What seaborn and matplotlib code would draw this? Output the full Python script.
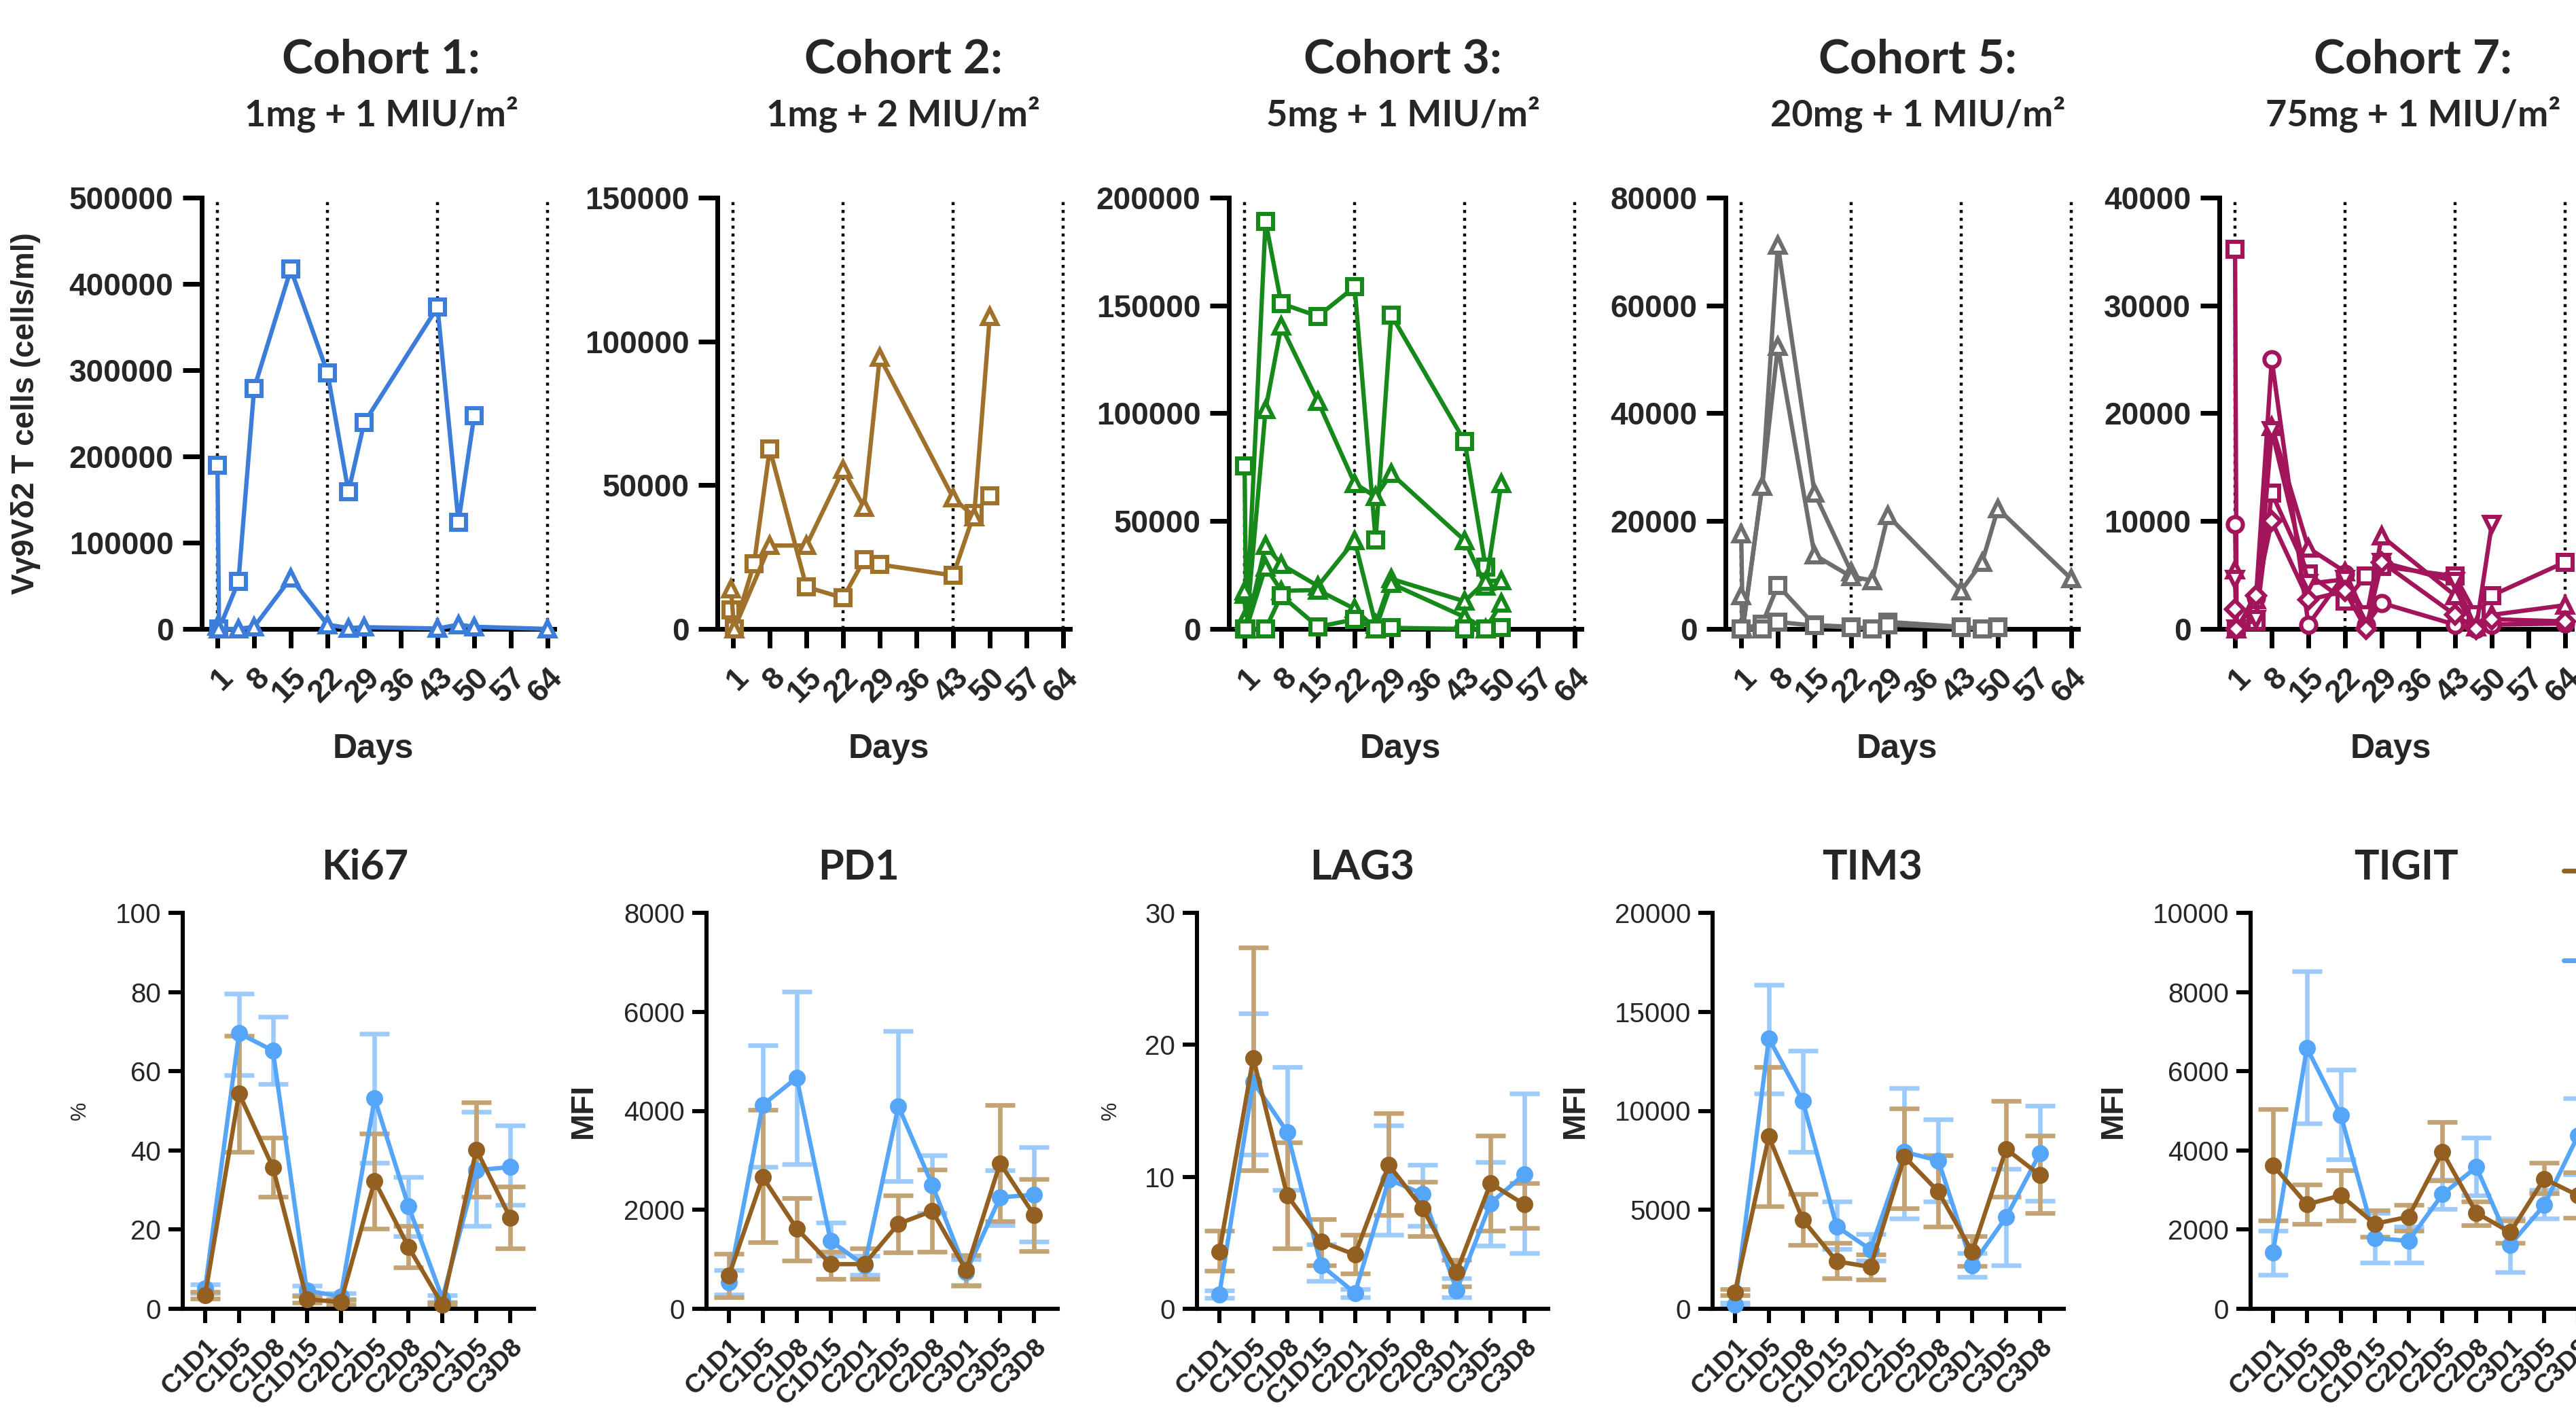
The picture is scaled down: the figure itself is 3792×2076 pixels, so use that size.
import numpy as np
import matplotlib
matplotlib.use("Agg")
import matplotlib.pyplot as plt
import seaborn as sns
from matplotlib.lines import Line2D

# ---------------- data: top row (cells/ml by study day) ----------------
day_ticks = [1, 8, 15, 22, 29, 36, 43, 50, 57, 64]
cycle_starts = [1, 22, 43, 64]

c1_sq_days = [1, 1.3, 5, 8, 15, 22, 26, 29, 43, 47, 50]
c1_sq_vals = [190000, 0, 55000, 279000, 417000, 297000, 159000, 239000, 373000, 124000, 247000]
c1_tri_days = [1, 1.3, 5, 8, 15, 22, 26, 29, 43, 47, 50, 64]
c1_tri_vals = [3000, 0, 0, 2500, 59000, 5000, 1000, 2000, 500, 5000, 2500, 0]

c2_sq_days = [0.6, 1.2, 5, 8, 15, 22, 26, 29, 43, 47, 50]
c2_sq_vals = [6600, 0, 22700, 62600, 14600, 10800, 24000, 22400, 18600, 40100, 46400]
c2_tri_days = [0.6, 1.2, 8, 15, 22, 26, 29, 43, 47, 50]
c2_tri_vals = [14000, 0, 29000, 29000, 55500, 42300, 94500, 45600, 39000, 108600]

c3_days = [1, 1.3, 5, 8, 15, 22, 26, 29, 43, 47, 50]
c3_a_vals = [75700, 0, 189000, 150900, 145000, 158600, 41400, 145600, 87000, 28800]
c3_b_vals = [16000, 0, 101800, 140500, 105500, 67500, 61300, 72000, 41000, 20000, 67500]
c3_c_vals = [17700, 0, 38700, 29900, 19900, 41000, 2200, 23200, 12800, 22100, 22500]
c3_d_vals = [4400, 0, 28800, 17700, 18000, 9300, 0, 21000, 5500, 0, 12000]
c3_e_vals = [0, 0, 0, 15500, 1000, 4400, 0, 500, 0, 0, 500]

c5_days = [1, 1.3, 5, 8, 15, 22, 26, 29, 43, 47, 50, 64]
c5_a_vals = [17700, 0, 26500, 71200, 25200, 10600]
c5_b_vals = [6200, 0, 26500, 52400, 13700, 9700, 9000, 21000, 7100, 12400, 22300, 9300]
c5_sq_days = [1, 5, 8, 15, 22, 26, 29, 43, 47, 50]
c5_c_vals = [0, 900, 8100, 700, 400, 0, 1300, 400, 0, 400]
c5_d_vals = [0, 0, 1300, 600, 300, 0, 800, 300, 0, 300]

c7_days = [1, 1.3, 5, 8, 15, 22, 26, 29, 43, 47, 50, 64]
c7_a_vals = [35200, 0, 700, 12600, 5100, 2600, 4900, 5800, 4900, 1300, 3100, 6200]
c7_b_vals = [9700, 0, 2900, 25000, 400, 5100, 400, 2400, 400, 0, 400, 500]
c7_c_vals = [5500, 0, 2700, 18800, 7500, 5300, 900, 8600, 3100, 200, 1300, 2200]
c7_d_vals = [4600, 0, 900, 18400, 4200, 4600, 1300, 6200, 4400, 0, 9700]
c7_e_vals = [1800, 0, 3100, 10000, 2700, 3500, 0, 6200, 1300, 0, 900, 700]

cohort_titles = ["Cohort 1:", "Cohort 2:", "Cohort 3:", "Cohort 5:", "Cohort 7:"]
cohort_doses = ["1mg + 1 MIU/m²", "1mg + 2 MIU/m²", "5mg + 1 MIU/m²",
                "20mg + 1 MIU/m²", "75mg + 1 MIU/m²"]
cohort_ymax = [500000, 150000, 200000, 80000, 40000]
cohort_ystep = [100000, 50000, 50000, 20000, 10000]

# ---------------- data: bottom row (mean with error range) ----------------
visits = ["C1D1", "C1D5", "C1D8", "C1D15", "C2D1", "C2D5", "C2D8", "C3D1", "C3D5", "C3D8"]

ki67_blue = [5.1, 69.6, 65.2, 4.6, 3.1, 53.1, 25.9, 2.6, 35.0, 35.8]
ki67_blue_lo = [4.0, 59.0, 56.8, 3.5, 2.2, 36.8, 18.3, 1.8, 21.0, 26.2]
ki67_blue_hi = [6.2, 79.6, 73.7, 5.8, 4.0, 69.5, 33.3, 3.5, 49.7, 46.3]
ki67_brown = [3.4, 54.4, 35.7, 2.4, 1.7, 32.3, 15.6, 1.0, 40.2, 23.0]
ki67_brown_lo = [2.5, 39.7, 28.3, 1.6, 1.0, 20.3, 10.5, 0.5, 28.3, 15.2]
ki67_brown_hi = [4.3, 69.0, 43.2, 3.2, 2.4, 44.3, 21.0, 1.6, 52.2, 30.9]

pd1_blue = [540, 4118, 4667, 1373, 878, 4094, 2502, 745, 2251, 2306]
pd1_blue_lo = [290, 2863, 2918, 1075, 682, 2580, 1937, 486, 1686, 1365]
pd1_blue_hi = [776, 5325, 6408, 1741, 1075, 5608, 3098, 996, 2800, 3271]
pd1_brown = [667, 2659, 1624, 902, 902, 1718, 1976, 776, 2941, 1898]
pd1_brown_lo = [227, 1349, 980, 604, 604, 1137, 1153, 463, 1765, 1169]
pd1_brown_hi = [1114, 4016, 2235, 1153, 1216, 2290, 2816, 1090, 4110, 2620]

lag3_blue = [1.1, 17.2, 13.4, 3.3, 1.2, 9.8, 8.7, 1.4, 8.0, 10.2]
lag3_blue_lo = [0.8, 11.7, 9.0, 2.1, 0.9, 5.6, 6.3, 0.85, 4.8, 4.2]
lag3_blue_hi = [1.4, 22.4, 18.3, 4.9, 1.5, 13.9, 10.9, 2.3, 11.1, 16.3]
lag3_brown = [4.3, 19.0, 8.6, 5.1, 4.1, 10.9, 7.6, 2.8, 9.5, 7.9]
lag3_brown_lo = [2.9, 10.5, 4.6, 3.3, 2.7, 7.1, 5.5, 1.7, 5.9, 6.1]
lag3_brown_hi = [5.9, 27.4, 12.6, 6.8, 5.6, 14.8, 9.6, 3.7, 13.1, 9.5]

tim3_blue = [200, 13650, 10500, 4160, 2990, 7920, 7490, 2210, 4630, 7860]
tim3_blue_lo = [100, 10890, 7920, 3030, 2440, 4550, 5415, 1620, 2210, 5470]
tim3_blue_hi = [300, 16380, 13040, 5415, 3770, 11140, 9560, 2830, 7080, 10260]
tim3_brown = [840, 8700, 4500, 2400, 2110, 7680, 5920, 2870, 8070, 6745]
tim3_brown_lo = [700, 5180, 3230, 1560, 1470, 5080, 4145, 2150, 5670, 4850]
tim3_brown_hi = [980, 12220, 5800, 3320, 2740, 10110, 7760, 3680, 10500, 8740]

tigit_blue = [1422, 6588, 4892, 1784, 1716, 2892, 3578, 1618, 2618, 4382]
tigit_blue_lo = [853, 4676, 3775, 1167, 1167, 2520, 2863, 931, 2275, 3400]
tigit_blue_hi = [1980, 8520, 6030, 2422, 2078, 3255, 4324, 2275, 3010, 5314]
tigit_brown = [3627, 2637, 2863, 2147, 2324, 3961, 2422, 1931, 3284, 2863]
tigit_brown_lo = [2225, 2147, 2225, 1814, 1980, 3245, 2108, 1657, 2912, 2304]
tigit_brown_hi = [5049, 3137, 3500, 2490, 2618, 4716, 2716, 2225, 3696, 3451]

marker_titles = ["Ki67", "PD1", "LAG3", "TIM3", "TIGIT"]
marker_units = ["%", "MFI", "%", "MFI", "MFI"]
marker_ymax = [100, 8000, 30, 20000, 10000]
marker_ystep = [20, 2000, 10, 5000, 2000]

# ---------------- styling ----------------
sns.set_style("ticks")
plt.rcParams['font.family'] = ['Liberation Sans', 'DejaVu Sans']
TITLE_FONT = ['Lato', 'DejaVu Sans']

blue_c1 = "#3B7DD8"
brown_c2 = "#A0712B"
green_c3 = "#16891A"
gray_c5 = "#6E6E6E"
magenta_c7 = "#A3155A"
blue_low = "#55A5F8"
brown_low = "#946021"
blue_err = "#9CCBFB"
brown_err = "#C3A274"

W, H = 3792, 2076
fig = plt.figure(figsize=(W / 200, H / 200), dpi=200)


def rect(left, top, width, height):
    return [left / W, 1 - (top + height) / H, width / W, height / H]


top_series = [
    [(c1_sq_days, c1_sq_vals, 's'), (c1_tri_days, c1_tri_vals, '^')],
    [(c2_sq_days, c2_sq_vals, 's'), (c2_tri_days, c2_tri_vals, '^')],
    [(c3_days[:len(c3_a_vals)], c3_a_vals, 's'), (c3_days, c3_b_vals, '^'),
     (c3_days, c3_c_vals, '^'), (c3_days, c3_d_vals, '^'), (c3_days, c3_e_vals, 's')],
    [(c5_days[:len(c5_a_vals)], c5_a_vals, '^'), (c5_days, c5_b_vals, '^'),
     (c5_sq_days, c5_c_vals, 's'), (c5_sq_days, c5_d_vals, 's')],
    [(c7_days, c7_a_vals, 's'), (c7_days, c7_b_vals, 'o'), (c7_days, c7_c_vals, '^'),
     (c7_days[:len(c7_d_vals)], c7_d_vals, 'v'), (c7_days, c7_e_vals, 'D')],
]
top_colors = [blue_c1, brown_c2, green_c3, gray_c5, magenta_c7]
top_lefts = [297, 1056, 1809, 2540, 3267]
top_title_x = [561, 1330, 2065, 2823, 3552]

for i in range(5):
    ax = fig.add_axes(rect(top_lefts[i], 291, 519, 635))
    col = top_colors[i]
    for d in cycle_starts:
        ax.axvline(d, color="black", linestyle=(0, (1, 1.6)), lw=1.6, zorder=1)
    for days, vals, mk in top_series[i]:
        sns.lineplot(x=days, y=vals, ax=ax, color=col, marker=mk, markersize=8 if mk != 'D' else 6.5,
                     markerfacecolor="white", markeredgecolor=col, markeredgewidth=2.2,
                     linewidth=2.3, estimator=None, sort=False, legend=False,
                     clip_on=False, zorder=3)
    ax.set_xlim(-2, 65.3)
    ax.set_ylim(0, cohort_ymax[i])
    ax.set_xticks(day_ticks)
    ax.set_xticklabels([str(d) for d in day_ticks], rotation=45, ha="right",
                       rotation_mode="anchor", fontsize=16.5, fontweight="bold")
    yt = np.arange(0, cohort_ymax[i] + 1, cohort_ystep[i])
    ax.set_yticks(yt)
    ax.set_yticklabels([str(int(v)) for v in yt], fontsize=16.5, fontweight="bold")
    ax.tick_params(axis="both", length=10, width=2.5, color="black", pad=5)
    ax.tick_params(axis="x", pad=8)
    sns.despine(ax=ax)
    for sp in ["left", "bottom"]:
        ax.spines[sp].set_linewidth(2.5)
        ax.spines[sp].set_color("black")
    ax.set_xlabel("Days", fontsize=18, fontweight="bold")
    ax.xaxis.set_label_coords(0.487, -0.243)
    if i == 0:
        ax.set_ylabel("Vγ9Vδ2 T cells (cells/ml)", fontsize=16.5, fontweight="bold")
        ax.yaxis.set_label_coords(-0.457, 0.5)
    else:
        ax.set_ylabel("")
    fig.text(top_title_x[i] / W, 1 - 88 / H, cohort_titles[i], ha="center", va="center",
             fontsize=25, fontweight="bold", family=TITLE_FONT)
    fig.text(top_title_x[i] / W, 1 - 168 / H, cohort_doses[i], ha="center", va="center",
             fontsize=19.5, fontweight="bold", family=TITLE_FONT)

bottom_data = [
    (ki67_blue, ki67_blue_lo, ki67_blue_hi, ki67_brown, ki67_brown_lo, ki67_brown_hi),
    (pd1_blue, pd1_blue_lo, pd1_blue_hi, pd1_brown, pd1_brown_lo, pd1_brown_hi),
    (lag3_blue, lag3_blue_lo, lag3_blue_hi, lag3_brown, lag3_brown_lo, lag3_brown_hi),
    (tim3_blue, tim3_blue_lo, tim3_blue_hi, tim3_brown, tim3_brown_lo, tim3_brown_hi),
    (tigit_blue, tigit_blue_lo, tigit_blue_hi, tigit_brown, tigit_brown_lo, tigit_brown_hi),
]
bottom_lefts = [269, 1040, 1762, 2521, 3313]
bottom_title_x = [537, 1264, 2005, 2756, 3542]
unit_label_x = [-0.263, -0.308, -0.217, -0.348, -0.348]
pos = np.arange(len(visits))

for i in range(5):
    ax = fig.add_axes(rect(bottom_lefts[i], 1344, 517, 583))
    bm, blo, bhi, rm, rlo, rhi = [np.array(a, dtype=float) for a in bottom_data[i]]
    for mean, lo, hi, col, ecol in [(bm, blo, bhi, blue_low, blue_err),
                                    (rm, rlo, rhi, brown_low, brown_err)]:
        ax.errorbar(pos, mean, yerr=[mean - lo, hi - mean], fmt="none", ecolor=ecol,
                    elinewidth=2.4, capsize=8, capthick=2.4, zorder=2, clip_on=False)
        sns.lineplot(x=pos, y=mean, ax=ax, color=col, marker="o", markersize=9,
                     markeredgecolor=col, markeredgewidth=0, linewidth=2.3,
                     estimator=None, sort=False, legend=False, clip_on=False, zorder=3)
    ax.set_xlim(-0.66, 9.7)
    ax.set_ylim(0, marker_ymax[i])
    ax.set_xticks(pos)
    ax.set_xticklabels(visits, rotation=45, ha="right", rotation_mode="anchor",
                       fontsize=14, fontweight="bold")
    yt = np.arange(0, marker_ymax[i] + 1, marker_ystep[i])
    ax.set_yticks(yt)
    ax.set_yticklabels([str(int(v)) for v in yt], fontsize=14.5)
    ax.tick_params(axis="both", length=7.5, width=2.2, color="black", pad=4)
    ax.tick_params(axis="x", pad=6)
    sns.despine(ax=ax)
    for sp in ["left", "bottom"]:
        ax.spines[sp].set_linewidth(2.2)
        ax.spines[sp].set_color("black")
    ax.set_xlabel("")
    if marker_units[i] == "%":
        ax.set_ylabel("%", fontsize=11)
    else:
        ax.set_ylabel("MFI", fontsize=17, fontweight="bold")
    ax.yaxis.set_label_coords(unit_label_x[i], 0.5)
    fig.text(bottom_title_x[i] / W, 1 - 1277 / H, marker_titles[i], ha="center", va="center",
             fontsize=22, fontweight="bold", family=TITLE_FONT)

# legend handles, cut off by the right edge of the figure
fig.add_artist(Line2D([3774 / W, 1.0], [1 - 1282 / H] * 2, color=brown_low, lw=2.5))
fig.add_artist(Line2D([3774 / W, 1.0], [1 - 1414 / H] * 2, color=blue_low, lw=2.5))

fig.savefig("out.png", dpi=200, facecolor="white")
